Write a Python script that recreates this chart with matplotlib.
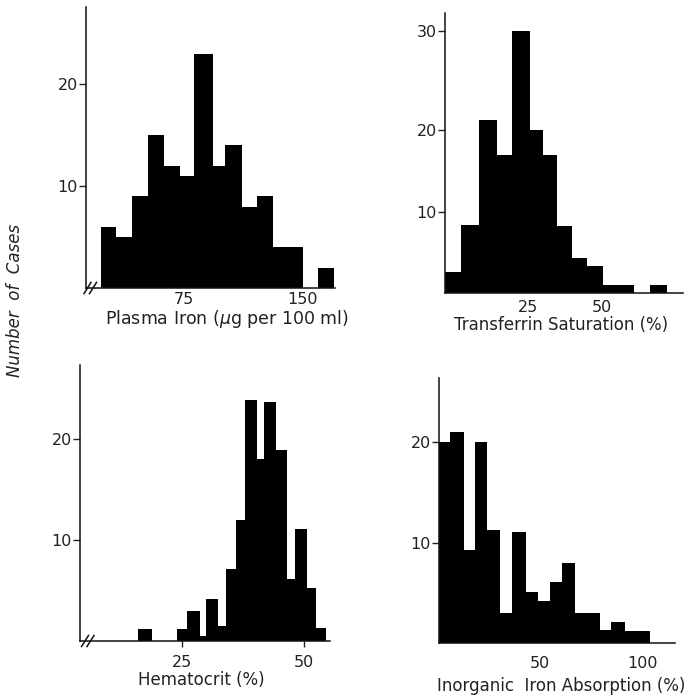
#!/usr/bin/env python3
"""
Four histograms of iron status (plasma iron, transferrin saturation,
hematocrit, inorganic iron absorption), redrawn from a scanned figure.
"""

import numpy as np
import matplotlib
matplotlib.use("Agg")
import matplotlib.pyplot as plt

plt.rcParams['font.family'] = ['DejaVu Sans']

# --- data: bin edges and number of cases per bin ---
plasma_edges = [22.4, 32.1, 42.4, 52.1, 62.6, 72.5, 81.5, 93.1, 100.9,
                111.8, 120.9, 131.4, 140.5, 150.0, 159.8, 169.7]
plasma_counts = [6, 5, 9, 15, 12, 11, 23, 12, 14, 8, 9, 4, 4, 0, 2]

transf_edges = [-3.4, 2.0, 8.2, 14.2, 19.5, 25.6, 30.1, 34.7, 39.8,
                45.1, 50.6, 55.9, 61.1, 66.3, 72.2]
transf_counts = [2.5, 8.3, 21, 17, 30, 20, 17, 8.2, 4.3, 3.3, 1, 1, 0, 1]

hemat_edges = [15.95, 18.7, 23.84, 26.0, 28.6, 29.86, 32.4, 33.9, 36.0,
               37.9, 40.3, 41.8, 44.2, 46.4, 48.1, 50.5, 52.4, 54.4]
hemat_counts = [1.2, 0, 1.2, 3, 0.5, 4.2, 1.5, 7.1, 12, 23.8, 18, 23.6,
                18.9, 6.1, 11.1, 5.2, 1.3]

absorb_edges = [1.0, 6.3, 12.8, 18.5, 24.4, 30.4, 36.5, 43.0, 49.0, 54.7,
                60.9, 66.9, 73.0, 79.0, 84.7, 91.2, 97.7, 103.4]
absorb_counts = [20, 21, 9.3, 20, 11.3, 3, 11.1, 5.1, 4.2, 6.1, 8, 3, 3,
                 1.3, 2.1, 1.2, 1.2]

# tick values / labels
plasma_xticks = [75, 150]
transf_xticks = [25, 50]
hemat_xticks = [25, 50]
absorb_xticks = [50, 100]
yticks_a = [10, 20]
yticks_b = [10, 20, 30]

W, H = 695, 696
fig = plt.figure(figsize=(W / 100, H / 100), dpi=100)


def px_axes(left, right, top, bottom):
    # axes box from pixel coordinates of the reference
    return fig.add_axes([left / W, 1 - bottom / H, (right - left) / W,
                         (bottom - top) / H])


def style(ax, xticks, yticks, xtick_len=0, xpad=4):
    for s in ('top', 'right'):
        ax.spines[s].set_visible(False)
    for s in ('left', 'bottom'):
        ax.spines[s].set_linewidth(1.1)
        ax.spines[s].set_color('#111111')
    ax.set_xticks(xticks)
    ax.set_yticks(yticks)
    ax.tick_params(axis='y', direction='out', length=5, width=1,
                   pad=1, labelsize=11.5, colors='#222222')
    ax.tick_params(axis='x', direction='out', length=xtick_len, width=1,
                   pad=xpad, labelsize=11.5, colors='#222222')


def axis_break(ax, x0):
    # the "//" mark at the origin of the x axis
    for dx in (0.0, 0.022):
        ax.plot([x0 + dx, x0 + 0.028 + dx], [-0.02, 0.02],
                transform=ax.transAxes, color='#111111', lw=1.1,
                clip_on=False)


# ---------- plasma iron ----------
ax1 = px_axes(86, 335, 7, 288)
ax1.stairs(plasma_counts, plasma_edges, fill=True, color='black',
           baseline=0)
ax1.set_xlim(13.1, 170.4)
ax1.set_ylim(0, 27.6)
style(ax1, plasma_xticks, yticks_a, xpad=3)
ax1.set_xlabel('Plasma Iron ($\\mu$g per 100 ml)', fontsize=12.5,
               color='#222222')
ax1.xaxis.set_label_coords(0.566, -0.072)
axis_break(ax1, -0.008)

# ---------- transferrin saturation (upper interval drawn stretched) ----------
k = 1.225


def fwd(y):
    y = np.asarray(y, dtype=float)
    return np.where(y <= 20, y, 20 + (y - 20) * k)


def inv(f):
    f = np.asarray(f, dtype=float)
    return np.where(f <= 20, f, 20 + (f - 20) / k)


ax2 = px_axes(445, 683, 13, 292.7)
ax2.set_yscale('function', functions=(fwd, inv))
ax2.stairs(transf_counts, transf_edges, fill=True, color='black',
           baseline=0)
ax2.set_xlim(-3.4, 77.7)
ax2.set_ylim(0, 31.8)
style(ax2, transf_xticks, yticks_b, xpad=5)
ax2.yaxis.set_minor_locator(matplotlib.ticker.NullLocator())
ax2.set_xlabel('Transferrin Saturation (%)', fontsize=12, color='#222222')
ax2.xaxis.set_label_coords(0.487, -0.085)

# ---------- hematocrit ----------
ax3 = px_axes(80, 330, 365, 641)
ax3.stairs(hemat_counts, hemat_edges, fill=True, color='black', baseline=0)
ax3.set_xlim(4.0, 55.3)
ax3.set_ylim(0, 27.3)
style(ax3, hemat_xticks, yticks_a, xtick_len=4, xpad=6)
ax3.set_xlabel('Hematocrit (%)', fontsize=12, color='#222222')
ax3.xaxis.set_label_coords(0.484, -0.11)
axis_break(ax3, 0.006)

# ---------- inorganic iron absorption ----------
ax4 = px_axes(439.3, 675, 378, 643.3)
ax4.stairs(absorb_counts, absorb_edges, fill=True, color='black',
           baseline=0)
ax4.set_xlim(1.0, 115.7)
ax4.set_ylim(0, 26.4)
style(ax4, absorb_xticks, yticks_a, xpad=9)
ax4.set_xlabel('Inorganic  Iron Absorption (%)', fontsize=12,
               color='#222222')
ax4.xaxis.set_label_coords(0.516, -0.127)

fig.text(0.022, 0.569, 'Number  of  Cases', rotation=90, style='italic',
         fontsize=12, ha='center', va='center', color='#222222')

fig.savefig('out.png', dpi=100)
